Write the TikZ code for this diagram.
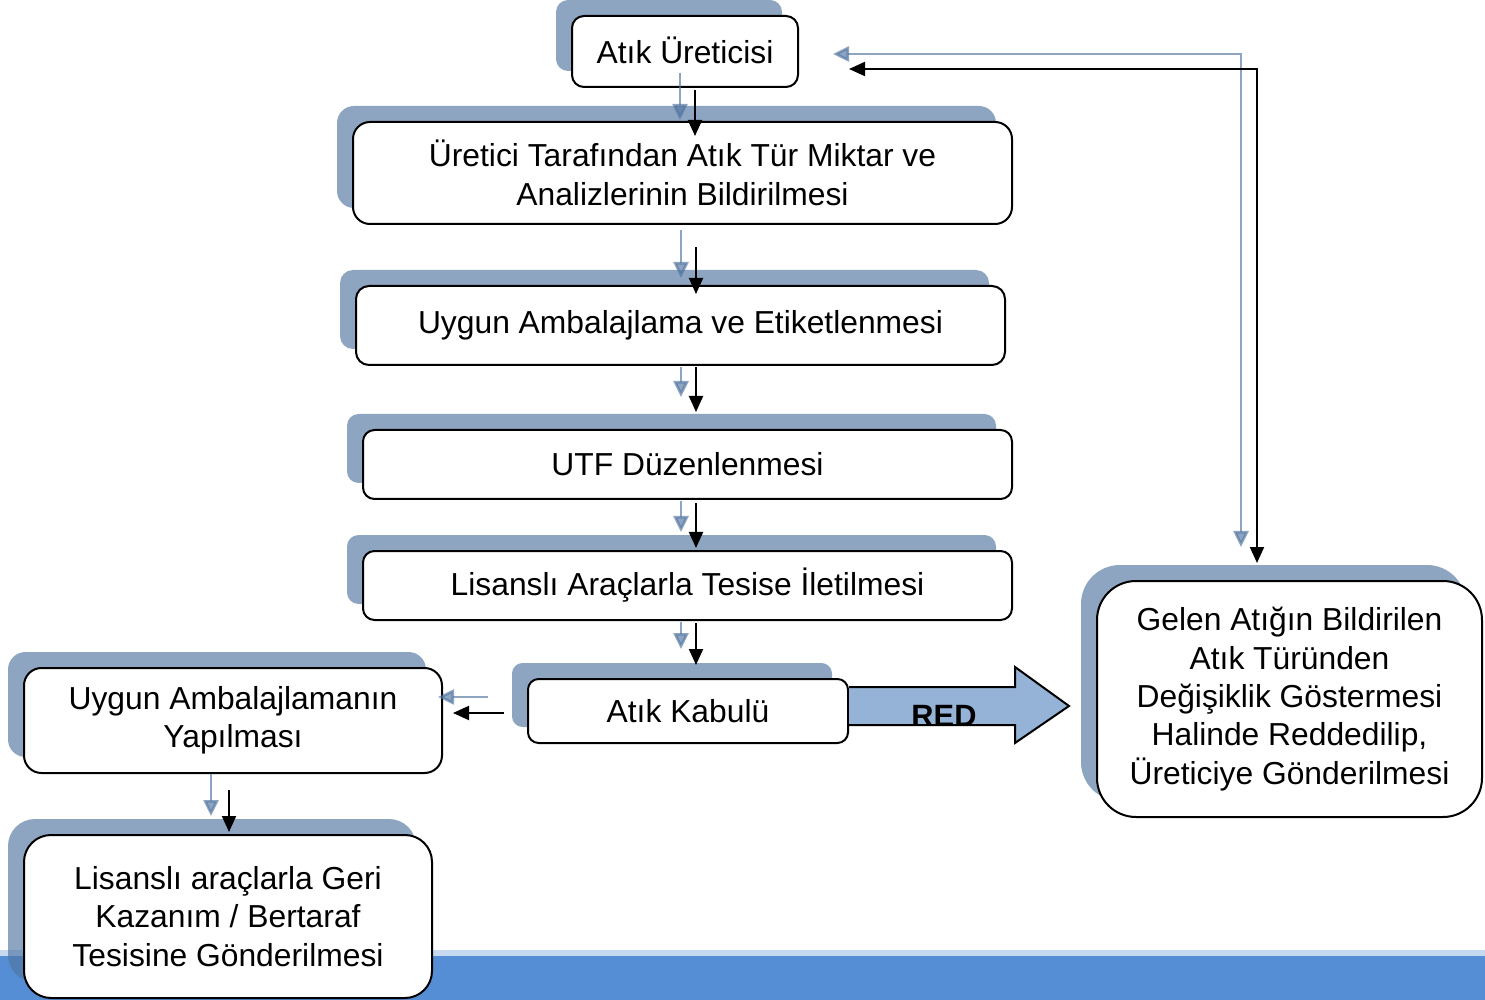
\documentclass[tikz,border=0pt]{standalone}
\usepackage{fontspec}
\setmainfont{Liberation Sans}
\usetikzlibrary{arrows.meta,calc,shadows}
\definecolor{shc}{RGB}{81,117,161}
\definecolor{redfill}{RGB}{149,179,215}
\definecolor{bandc}{RGB}{85,142,213}
\definecolor{bandl}{RGB}{198,217,241}
\begin{document}
\begin{tikzpicture}[x=0.5pt,y=-0.5pt,
  box/.style={draw=black, line width=1pt, fill=white, inner sep=0pt, align=center,
    font=\fontsize{15.9pt}{19.2pt}\selectfont,
    drop shadow={shadow xshift=-8pt,shadow yshift=8pt,fill=shc,opacity=0.65}},
  blk/.style={draw=black, line width=1pt, -{Triangle[length=8pt,width=7pt]}},
  blu/.style={draw=shc, opacity=0.65, line width=1.3pt, -{Triangle[length=8pt,width=7.5pt]}},
  blk2/.style={draw=black, line width=1pt, {Triangle[length=8pt,width=7pt]}-{Triangle[length=8pt,width=7pt]}},
  blu2/.style={draw=shc, opacity=0.65, line width=1.3pt, {Triangle[length=8pt,width=7.5pt]}-{Triangle[length=8pt,width=7.5pt]}}]
\useasboundingbox (0,0) rectangle (1485,1000);
% bottom band
\fill[bandl] (0,950) rectangle (1485,956);
\fill[bandc] (0,956) rectangle (1485,1000);

% boxes
\node[box, minimum width=113pt, minimum height=35.5pt, rounded corners=6pt] (b1) at (685,51.5) {\raisebox{1.5pt}{Atık Üreticisi}};
\node[box, minimum width=329.5pt, minimum height=51pt, rounded corners=8.5pt] (b2) at (682.5,173) {Üretici Tarafından Atık Tür Miktar ve\\Analizlerinin Bildirilmesi};
\node[box, minimum width=324.5pt, minimum height=39.5pt, rounded corners=6.5pt] (b3) at (680.5,325.5) {\raisebox{1.5pt}{Uygun Ambalajlama ve Etiketlenmesi}};
\node[box, minimum width=324.5pt, minimum height=34.5pt, rounded corners=5.75pt] (b4) at (687.5,464.5) {UTF Düzenlenmesi};
\node[box, minimum width=324.5pt, minimum height=34.5pt, rounded corners=5.75pt] (b5) at (687.5,585.5) {Lisanslı Araçlarla Tesise İletilmesi};
\node[box, minimum width=160pt, minimum height=32pt, rounded corners=5.3pt] (b6) at (688,711) {Atık Kabulü};
\node[box, minimum width=209pt, minimum height=52.5pt, rounded corners=8.75pt] (b7) at (233,720.5) {Uygun Ambalajlamanın\\Yapılması};
\node[box, minimum width=204pt, minimum height=81.5pt, rounded corners=13.5pt] (b8) at (228,916.5) {Lisanslı araçlarla Geri\\Kazanım / Bertaraf\\Tesisine Gönderilmesi};
\node[box, minimum width=192.5pt, minimum height=118pt, rounded corners=19.5pt] (b9) at (1289.5,699) {Gelen Atığın Bildirilen\\Atık Türünden\\Değişiklik Göstermesi\\Halinde Reddedilip,\\Üreticiye Gönderilmesi};

% RED block arrow
\filldraw[fill=redfill, draw=black, line width=1pt] ($(b6.east)+(0,-24)$) -- ++(166,0) -- ++(0,-20) -- ++(54,39) -- ++(-54,37) -- ++(0,-18) -- ($(b6.east)+(0,14)$);
\node[font=\bfseries\fontsize{15.4pt}{18pt}\selectfont] (red) at (944,716) {RED};

% vertical connectors (shadow copy + black)
\draw[blu] ($(b1.south)+(-5,-15)$) coordinate (s1) -- ($(s1 |- b2.north)+(0,-1)$);
\draw[blk] ($(b1.south)+(10,2)$) coordinate (k1) -- ($(k1 |- b2.north)+(0,15)$);

\draw[blu] ($(b2.south)+(-1.5,5)$) coordinate (s2) -- ($(s2 |- b3.north)+(0,-7)$);
\draw[blk] ($(b2.south)+(13.5,22)$) coordinate (k2) -- ($(k2 |- b3.north)+(0,9)$);

\draw[blu] ($(b3.south)+(0.5,1)$) coordinate (s3) -- ($(s3 |- b4.north)+(0,-32)$);
\draw[blk] ($(b3.south)+(15.5,1)$) coordinate (k3) -- ($(k3 |- b4.north)+(0,-17)$);

\draw[blu] ($(b4.south)+(-6.5,1)$) coordinate (s4) -- ($(s4 |- b5.north)+(0,-18)$);
\draw[blk] ($(b4.south)+(8.5,3)$) coordinate (k4) -- ($(k4 |- b5.north)+(0,-2)$);

\draw[blu] ($(b5.south)+(-6.5,1)$) coordinate (s5) -- ($(s5 |- b6.north)+(0,-29)$);
\draw[blk] ($(b5.south)+(8.5,2)$) coordinate (k5) -- ($(k5 |- b6.north)+(0,-13)$);

\draw[blu] ($(b6.west)+(-39,-14)$) coordinate (s6) -- ($(s6 -| b7.east)+(-5,0)$);
\draw[blk] ($(b6.west)+(-23,2)$) coordinate (k6) -- ($(k6 -| b7.east)+(10,0)$);

\draw[blu] ($(b7.south)+(-22,0)$) coordinate (s7) -- ($(s7 |- b8.north)+(0,-18)$);
\draw[blk] ($(b7.south)+(-4,16)$) coordinate (k7) -- ($(k7 |- b8.north)+(0,-2)$);

% feedback loop
\draw[blu2] ($(b1.east)+(34,2.5)$) -| ($(b9.north)+(-48.5,-33)$);
\draw[blk2] ($(b1.east)+(50,17.5)$) -| ($(b9.north)+(-32.5,-17)$);
\end{tikzpicture}
\end{document}
